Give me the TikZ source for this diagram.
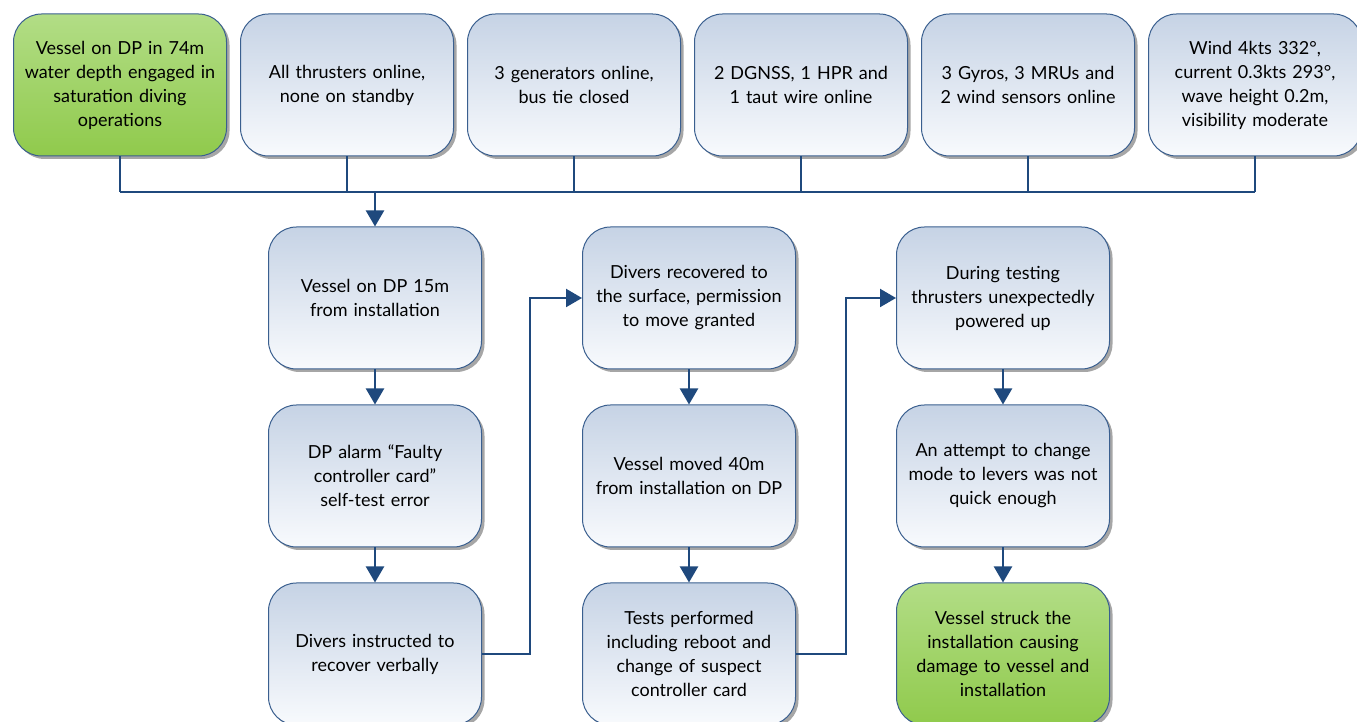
\documentclass[tikz,border=0pt]{standalone}
\usepackage{fontspec}
\setmainfont{Lato}
\usepackage{tikz}
\usetikzlibrary{positioning,shadows,arrows.meta}

\definecolor{boxline}{HTML}{3A5F8F}
\definecolor{linkblue}{HTML}{1F497D}
\definecolor{boxtop}{HTML}{C6D3E5}
\definecolor{boxbot}{HTML}{F8FAFD}
\definecolor{greentop}{HTML}{B2DD86}
\definecolor{greenbot}{HTML}{90CA4C}

\begin{document}
\begin{tikzpicture}[x=1pt,y=1pt,node distance=13pt,
    main node/.style={rectangle,rounded corners=28pt,draw=boxline,line width=1pt,
      minimum width=213pt,minimum height=142pt,text width=205pt,inner xsep=3pt,
      align=center,top color=boxtop,bottom color=boxbot,
      font=\fontsize{18}{24}\selectfont,
      drop shadow={shadow xshift=3pt,shadow yshift=-3pt,fill=black!50,opacity=.7}},
    end node/.style={main node,top color=greentop,bottom color=greenbot},
    link/.style={draw=linkblue,line width=2.2pt},
    flow/.style={link,-{Triangle[length=16pt,width=18pt]}}]

  \useasboundingbox (0,0) rectangle (1357,722);

  % starting conditions
  \node[end node] (e1) at (120,637) {Vessel on DP in 74m\\water depth engaged in\\saturation diving\\operations};
  \node[main node] (e2) [right=of e1] {All thrusters online,\\none on standby};
  \node[main node] (e3) [right=of e2] {3 generators online,\\bus tie closed};
  \node[main node] (e4) [right=of e3] {2 DGNSS, 1 HPR and\\1 taut wire online};
  \node[main node] (e5) [right=of e4] {3 Gyros, 3 MRUs and\\2 wind sensors online};
  \node[main node] (e6) [right=of e5] {Wind 4kts 332°,\\current 0.3kts 293°,\\wave height 0.2m,\\visibility moderate};

  % sequence of events
  \node[main node] (a1) at (375,424) {Vessel on DP 15m\\from installation};
  \node[main node] (a2) [below=35pt of a1] {DP alarm “Faulty\\controller card”\\self-test error};
  \node[main node] (a3) [below=35pt of a2] {Divers instructed to\\recover verbally};
  \node[main node] (b1) [right=100pt of a1] {Divers recovered to\\the surface, permission\\to move granted};
  \node[main node] (b2) [below=35pt of b1] {Vessel moved 40m\\from installation on DP};
  \node[main node] (b3) [below=35pt of b2] {Tests performed\\including reboot and\\change of suspect\\controller card};
  \node[main node] (c1) [right=100pt of b1] {During testing\\thrusters unexpectedly\\powered up};
  \node[main node] (c2) [below=35pt of c1] {An attempt to change\\mode to levers was not\\quick enough};
  \node[end node] (c3) [below=35pt of c2] {Vessel struck the\\installation causing\\damage to vessel and\\installation};

  \coordinate (bus) at (0,530);
  \foreach \n in {1,...,6}
    \draw[link] (e\n.south) -- (e\n.south |- bus);
  \draw[link] (e1.south |- bus) -- (e6.south |- bus);
  \draw[flow] (a1.north |- bus) -- (a1);

  \draw[flow] (a1) -- (a2);
  \draw[flow] (a2) -- (a3);
  \draw[flow] (a3.east) -- ++(48,0) |- (b1.west);
  \draw[flow] (b1) -- (b2);
  \draw[flow] (b2) -- (b3);
  \draw[flow] (b3.east) -- ++(50,0) |- (c1.west);
  \draw[flow] (c1) -- (c2);
  \draw[flow] (c2) -- (c3);

\end{tikzpicture}
\end{document}
